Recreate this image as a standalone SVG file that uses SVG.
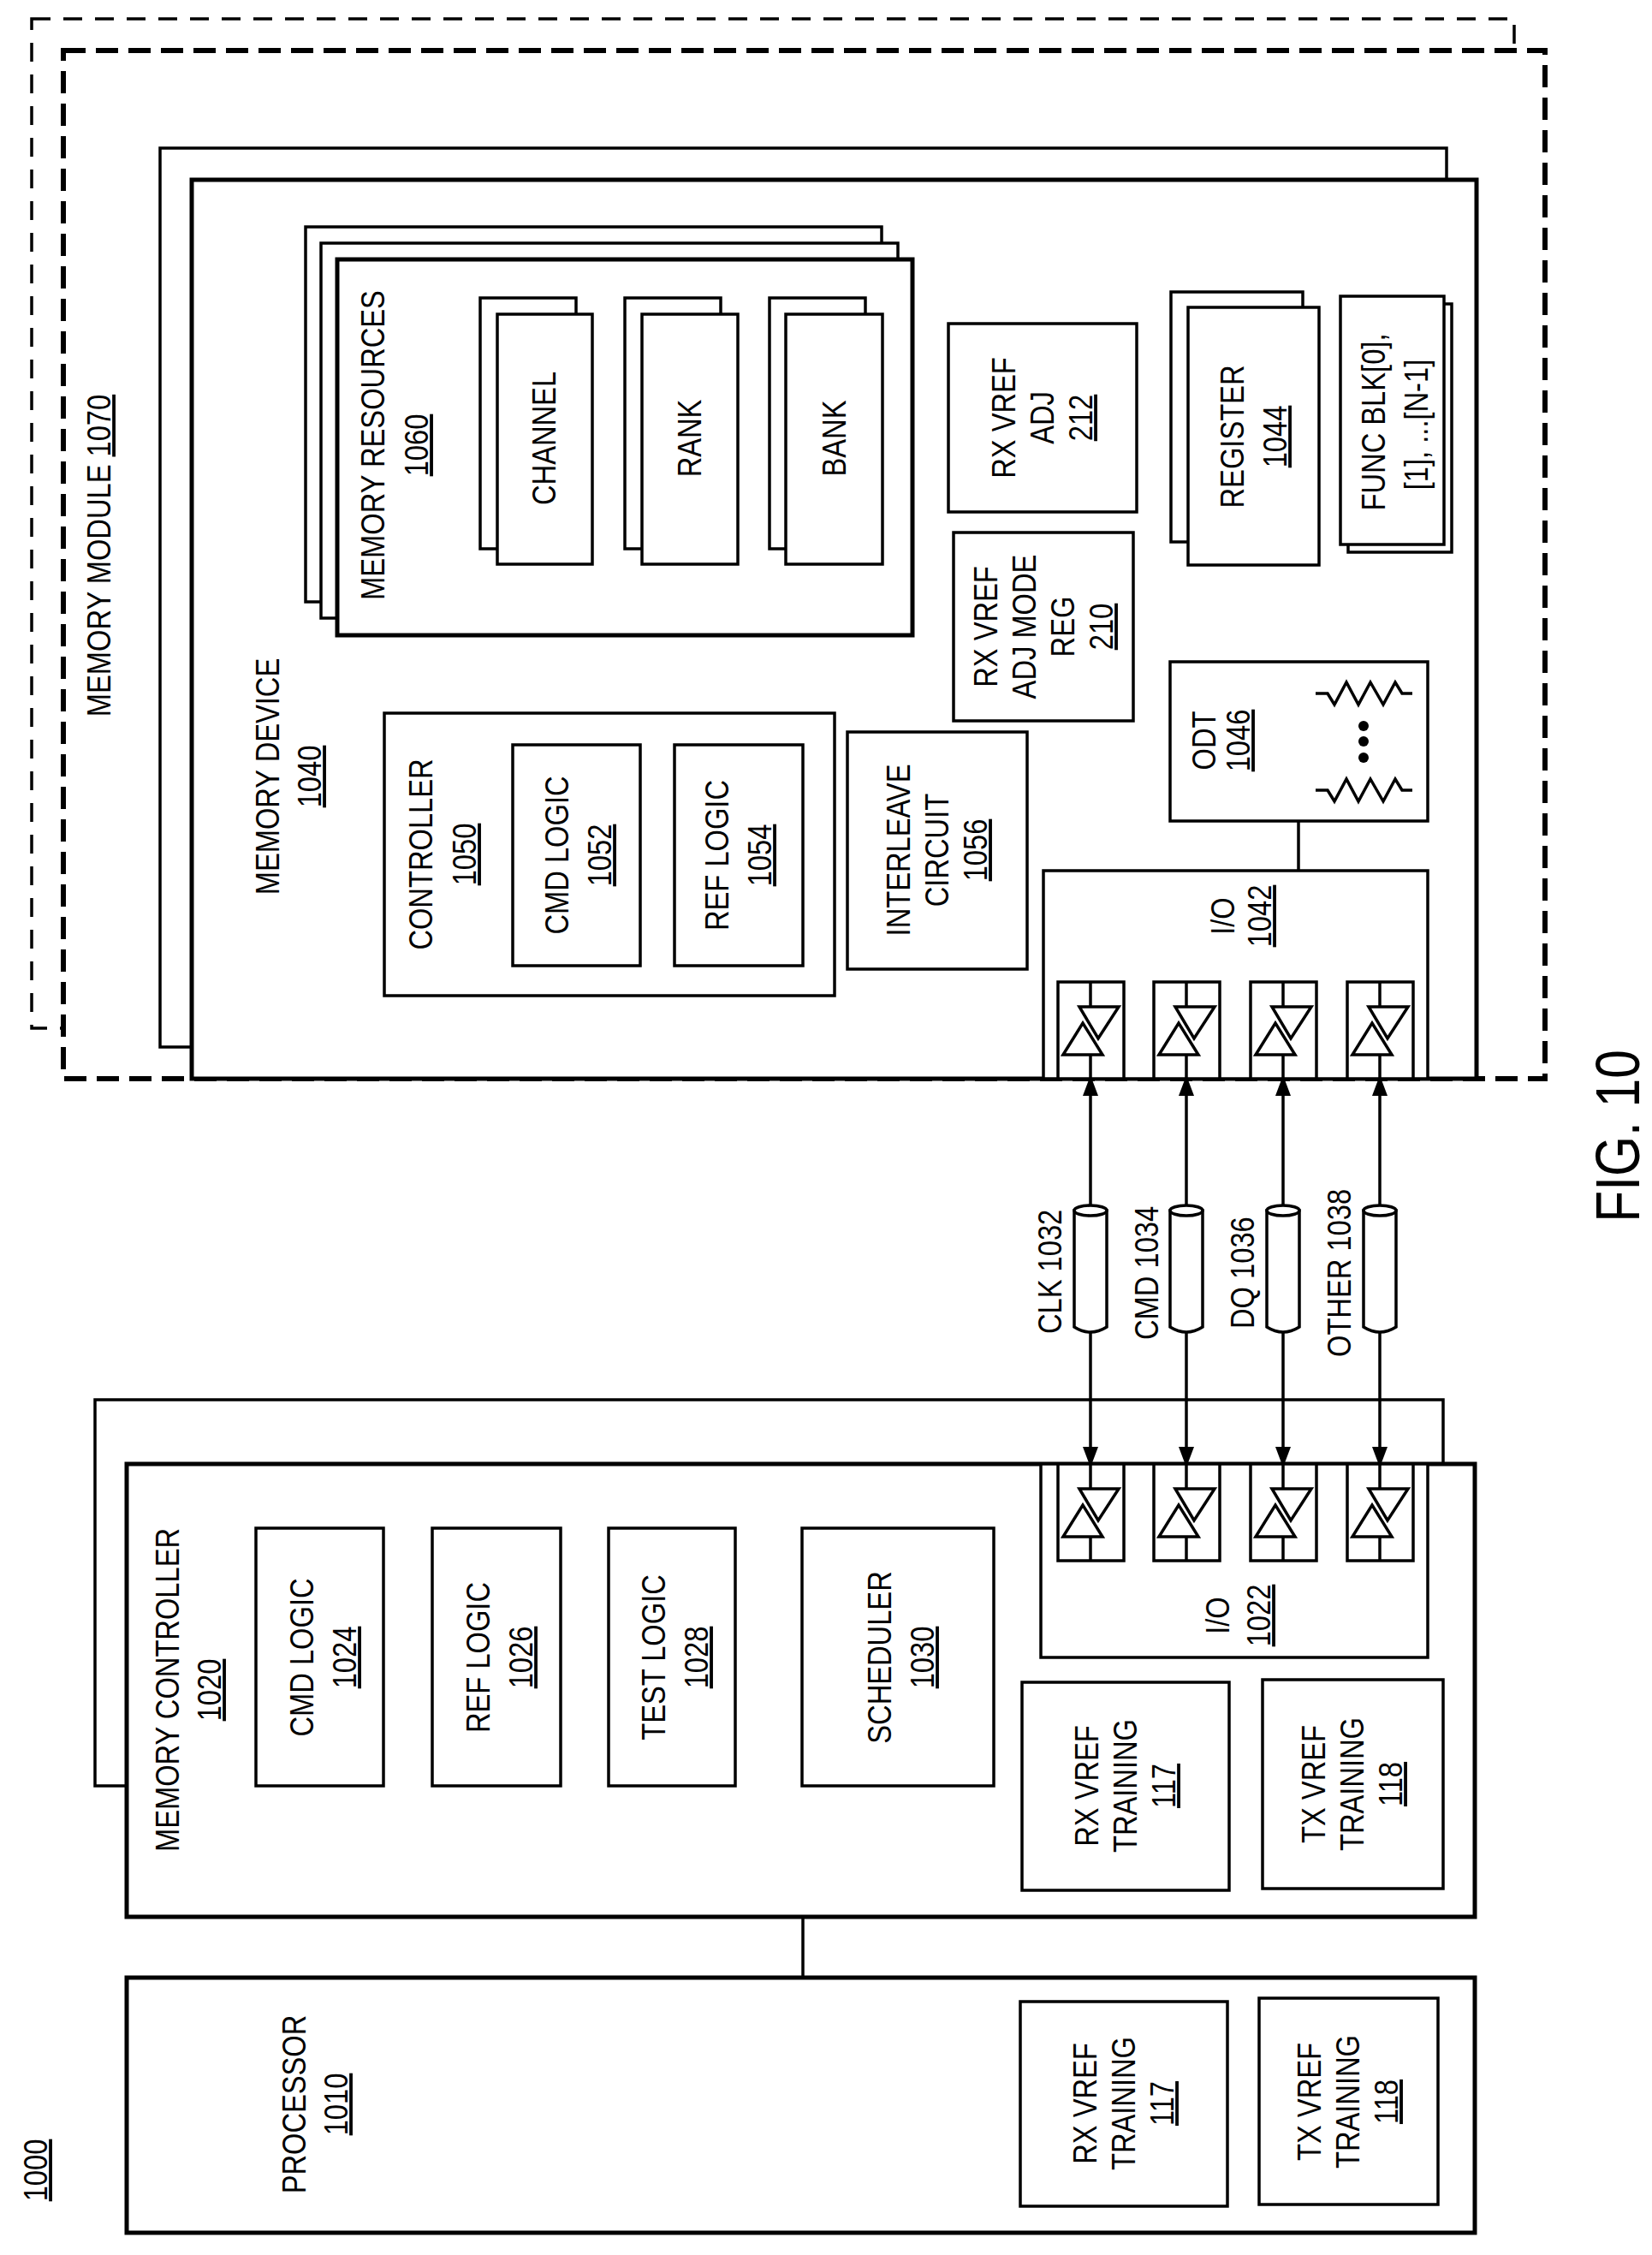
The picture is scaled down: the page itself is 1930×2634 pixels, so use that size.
<svg xmlns="http://www.w3.org/2000/svg" width="1930" height="2634" viewBox="0 0 1930 2634">
<style>
.b{fill:#fff;stroke:#000;stroke-width:3.5}
.bt{fill:#fff;stroke:#000;stroke-width:5}
.t{font-family:"Liberation Sans",Arial,sans-serif;font-size:38px;text-anchor:middle;fill:#000}
.u{text-decoration:underline}
.ln{fill:none;stroke:#000;stroke-width:3.5}
.tri{fill:#fff;stroke:#000;stroke-width:3.5}
</style>
<defs>
<marker id="ah" viewBox="0 0 24 32" refX="24" refY="12" markerWidth="32" markerHeight="24" markerUnits="userSpaceOnUse" orient="auto-start-reverse">
<path d="M0,0 L32,12 L0,24 Z" fill="#000"/>
</marker>
<g id="buf">
<rect class="b" x="-38" y="0" width="77" height="113"/>
<line class="ln" x1="0" y1="0" x2="0" y2="29"/>
<line class="ln" x1="0" y1="85" x2="0" y2="113"/>
<polygon class="tri" points="-13,29 33,29 9,66"/>
<polygon class="tri" points="-32,85 14,85 -9,48"/>
</g>
<path id="res" class="ln" d="M0,0 L14,0 L22,13 L36,-13 L50,13 L64,-13 L79,13 L93,-13 L101,0 L113,0"/>
</defs>

<g id="memory-module-1070">
<rect x="37" y="22" width="1732" height="1179" fill="#fff" stroke="#000" stroke-width="3.5" stroke-dasharray="22 15"/>
<rect x="74" y="59" width="1731" height="1201" fill="#fff" stroke="#000" stroke-width="6" stroke-dasharray="26 12"/>
<text class="t" transform="translate(129,649) rotate(-90) scale(0.86,1)">MEMORY MODULE <tspan class="u">1070</tspan></text>
</g>

<g id="memory-device-1040">
<rect class="b" x="187" y="173" width="1503" height="1050"/>
<rect class="bt" x="224" y="210" width="1501" height="1050"/>
<text class="t" transform="translate(326,907) rotate(-90) scale(0.86,1)">MEMORY DEVICE</text>
<text class="t u" transform="translate(375,907) rotate(-90) scale(0.86,1)">1040</text>
</g>

<g id="memory-resources-1060">
<rect class="b" x="357" y="265" width="673" height="438"/>
<rect class="b" x="375" y="284" width="674" height="438"/>
<rect class="bt" x="394" y="303" width="672" height="439"/>
<text class="t" transform="translate(449,520) rotate(-90) scale(0.86,1)">MEMORY RESOURCES</text>
<text class="t u" transform="translate(500,520) rotate(-90) scale(0.86,1)">1060</text>
</g>
<g id="channel">
<rect class="b" x="561" y="348" width="112" height="293"/>
<rect class="b" x="581" y="367" width="111" height="292"/>
<text class="t" transform="translate(649,512) rotate(-90) scale(0.86,1)">CHANNEL</text>
</g>
<g id="rank">
<rect class="b" x="730" y="348" width="112" height="293"/>
<rect class="b" x="750" y="367" width="112" height="292"/>
<text class="t" transform="translate(819,512) rotate(-90) scale(0.86,1)">RANK</text>
</g>
<g id="bank">
<rect class="b" x="899" y="348" width="112" height="293"/>
<rect class="b" x="918" y="367" width="113" height="292"/>
<text class="t" transform="translate(988,512) rotate(-90) scale(0.86,1)">BANK</text>
</g>

<g id="rx-vref-adj-212">
<rect class="b" x="1108" y="378" width="220" height="220"/>
<text class="t" transform="translate(1186,488) rotate(-90) scale(0.86,1)">RX VREF</text>
<text class="t" transform="translate(1231,488) rotate(-90) scale(0.86,1)">ADJ</text>
<text class="t u" transform="translate(1276,488) rotate(-90) scale(0.86,1)">212</text>
</g>
<g id="rx-vref-adj-mode-reg-210">
<rect class="b" x="1114" y="622" width="210" height="220"/>
<text class="t" transform="translate(1165,732) rotate(-90) scale(0.86,1)">RX VREF</text>
<text class="t" transform="translate(1210,732) rotate(-90) scale(0.86,1)">ADJ MODE</text>
<text class="t" transform="translate(1255,732) rotate(-90) scale(0.86,1)">REG</text>
<text class="t u" transform="translate(1300,732) rotate(-90) scale(0.86,1)">210</text>
</g>
<g id="register-1044">
<rect class="b" x="1368" y="341" width="154" height="292"/>
<rect class="b" x="1388" y="359" width="153" height="301"/>
<text class="t" transform="translate(1453,510) rotate(-90) scale(0.86,1)">REGISTER</text>
<text class="t u" transform="translate(1503,510) rotate(-90) scale(0.86,1)">1044</text>
</g>
<g id="func-blk">
<rect class="b" x="1575" y="355" width="121" height="290"/>
<rect class="b" x="1566" y="346" width="121" height="290"/>
<text class="t" transform="translate(1618,493) rotate(-90) scale(0.86,1)">FUNC BLK[0],</text>
<text class="t" transform="translate(1668,496) rotate(-90) scale(0.86,1)">[1], ...[N-1]</text>
</g>
<g id="odt-1046">
<rect class="b" x="1367" y="773" width="301" height="186"/>
<text class="t" transform="translate(1420,865) rotate(-90) scale(0.86,1)">ODT</text>
<text class="t u" transform="translate(1460,865) rotate(-90) scale(0.86,1)">1046</text>
<use href="#res" x="1537" y="810"/>
<use href="#res" x="1537" y="923"/>
<circle cx="1593" cy="848" r="6"/>
<circle cx="1593" cy="866" r="6"/>
<circle cx="1593" cy="885" r="6"/>
</g>
<g id="controller-1050">
<rect class="b" x="449" y="833" width="526" height="330"/>
<text class="t" transform="translate(505,998) rotate(-90) scale(0.86,1)">CONTROLLER</text>
<text class="t u" transform="translate(556,998) rotate(-90) scale(0.86,1)">1050</text>
</g>
<g id="cmd-logic-1052">
<rect class="b" x="599" y="870" width="149" height="258"/>
<text class="t" transform="translate(664,999) rotate(-90) scale(0.86,1)">CMD LOGIC</text>
<text class="t u" transform="translate(714,999) rotate(-90) scale(0.86,1)">1052</text>
</g>
<g id="ref-logic-1054">
<rect class="b" x="788" y="870" width="150" height="258"/>
<text class="t" transform="translate(851,999) rotate(-90) scale(0.86,1)">REF LOGIC</text>
<text class="t u" transform="translate(901,999) rotate(-90) scale(0.86,1)">1054</text>
</g>
<g id="interleave-circuit-1056">
<rect class="b" x="990" y="855" width="210" height="277"/>
<text class="t" transform="translate(1063,993) rotate(-90) scale(0.86,1)">INTERLEAVE</text>
<text class="t" transform="translate(1108,993) rotate(-90) scale(0.86,1)">CIRCUIT</text>
<text class="t u" transform="translate(1153,993) rotate(-90) scale(0.86,1)">1056</text>
</g>
<g id="io-1042">
<rect class="b" x="1219" y="1017" width="449" height="243"/>
<text class="t" transform="translate(1442,1070) rotate(-90) scale(0.86,1)">I/O</text>
<text class="t u" transform="translate(1485,1070) rotate(-90) scale(0.86,1)">1042</text>
<use href="#buf" x="1274" y="1147"/>
<use href="#buf" x="1386" y="1147"/>
<use href="#buf" x="1499" y="1147"/>
<use href="#buf" x="1612" y="1147"/>
</g>

<g id="memory-controller-1020">
<rect class="b" x="111" y="1635" width="1575" height="451"/>
<rect class="bt" x="148" y="1710" width="1575" height="529"/>
<text class="t" transform="translate(209,1974) rotate(-90) scale(0.86,1)">MEMORY CONTROLLER</text>
<text class="t u" transform="translate(258,1974) rotate(-90) scale(0.86,1)">1020</text>
</g>
<g id="cmd-logic-1024">
<rect class="b" x="299" y="1785" width="149" height="301"/>
<text class="t" transform="translate(366,1936) rotate(-90) scale(0.86,1)">CMD LOGIC</text>
<text class="t u" transform="translate(416,1936) rotate(-90) scale(0.86,1)">1024</text>
</g>
<g id="ref-logic-1026">
<rect class="b" x="505" y="1785" width="150" height="301"/>
<text class="t" transform="translate(572,1936) rotate(-90) scale(0.86,1)">REF LOGIC</text>
<text class="t u" transform="translate(622,1936) rotate(-90) scale(0.86,1)">1026</text>
</g>
<g id="test-logic-1028">
<rect class="b" x="711" y="1785" width="148" height="301"/>
<text class="t" transform="translate(777,1936) rotate(-90) scale(0.86,1)">TEST LOGIC</text>
<text class="t u" transform="translate(827,1936) rotate(-90) scale(0.86,1)">1028</text>
</g>
<g id="scheduler-1030">
<rect class="b" x="937" y="1785" width="224" height="301"/>
<text class="t" transform="translate(1041,1936) rotate(-90) scale(0.86,1)">SCHEDULER</text>
<text class="t u" transform="translate(1091,1936) rotate(-90) scale(0.86,1)">1030</text>
</g>
<g id="io-1022">
<rect class="b" x="1216" y="1710" width="452" height="226"/>
<use href="#buf" x="1274" y="1710"/>
<use href="#buf" x="1386" y="1710"/>
<use href="#buf" x="1499" y="1710"/>
<use href="#buf" x="1612" y="1710"/>
<text class="t" transform="translate(1436,1887) rotate(-90) scale(0.86,1)">I/O</text>
<text class="t u" transform="translate(1484,1887) rotate(-90) scale(0.86,1)">1022</text>
</g>
<g id="mc-rx-vref-training-117">
<rect class="b" x="1194" y="1965" width="242" height="243"/>
<text class="t" transform="translate(1283,2086) rotate(-90) scale(0.86,1)">RX VREF</text>
<text class="t" transform="translate(1328,2086) rotate(-90) scale(0.86,1)">TRAINING</text>
<text class="t u" transform="translate(1373,2086) rotate(-90) scale(0.86,1)">117</text>
</g>
<g id="mc-tx-vref-training-118">
<rect class="b" x="1475" y="1962" width="211" height="244"/>
<text class="t" transform="translate(1548,2084) rotate(-90) scale(0.86,1)">TX VREF</text>
<text class="t" transform="translate(1593,2084) rotate(-90) scale(0.86,1)">TRAINING</text>
<text class="t u" transform="translate(1638,2084) rotate(-90) scale(0.86,1)">118</text>
</g>

<g id="processor-1010">
<rect class="bt" x="148" y="2310" width="1575" height="298"/>
<text class="t" transform="translate(357,2458) rotate(-90) scale(0.86,1)">PROCESSOR</text>
<text class="t u" transform="translate(406,2458) rotate(-90) scale(0.86,1)">1010</text>
</g>
<g id="proc-rx-vref-training-117">
<rect class="b" x="1192" y="2338" width="242" height="239"/>
<text class="t" transform="translate(1281,2457) rotate(-90) scale(0.86,1)">RX VREF</text>
<text class="t" transform="translate(1326,2457) rotate(-90) scale(0.86,1)">TRAINING</text>
<text class="t u" transform="translate(1371,2457) rotate(-90) scale(0.86,1)">117</text>
</g>
<g id="proc-tx-vref-training-118">
<rect class="b" x="1471" y="2334" width="209" height="241"/>
<text class="t" transform="translate(1543,2455) rotate(-90) scale(0.86,1)">TX VREF</text>
<text class="t" transform="translate(1588,2455) rotate(-90) scale(0.86,1)">TRAINING</text>
<text class="t u" transform="translate(1633,2455) rotate(-90) scale(0.86,1)">118</text>
</g>

<g id="connectors">
<line class="ln" x1="1517" y1="959" x2="1517" y2="1017"/>
<line class="ln" x1="938" y1="2239" x2="938" y2="2310"/>
<line class="ln" x1="1274" y1="1262" x2="1274" y2="1708" marker-start="url(#ah)" marker-end="url(#ah)"/>
<line class="ln" x1="1386" y1="1262" x2="1386" y2="1708" marker-start="url(#ah)" marker-end="url(#ah)"/>
<line class="ln" x1="1499" y1="1262" x2="1499" y2="1708" marker-start="url(#ah)" marker-end="url(#ah)"/>
<line class="ln" x1="1612" y1="1262" x2="1612" y2="1708" marker-start="url(#ah)" marker-end="url(#ah)"/>
<g id="cylinders" fill="#fff" stroke="#000" stroke-width="3.5">
<path d="M1255,1414 L1255,1550 Q1274,1562 1293,1550 L1293,1414 Z"/><ellipse cx="1274" cy="1414" rx="19" ry="6"/>
<path d="M1367,1414 L1367,1550 Q1386,1562 1405,1550 L1405,1414 Z"/><ellipse cx="1386" cy="1414" rx="19" ry="6"/>
<path d="M1480,1414 L1480,1550 Q1499,1562 1518,1550 L1518,1414 Z"/><ellipse cx="1499" cy="1414" rx="19" ry="6"/>
<path d="M1593,1414 L1593,1550 Q1612,1562 1631,1550 L1631,1414 Z"/><ellipse cx="1612" cy="1414" rx="19" ry="6"/>
</g>
<text class="t" style="text-anchor:start" transform="translate(1240,1558) rotate(-90) scale(0.86,1)">CLK 1032</text>
<text class="t" style="text-anchor:start" transform="translate(1353,1565) rotate(-90) scale(0.86,1)">CMD 1034</text>
<text class="t" style="text-anchor:start" transform="translate(1465,1552) rotate(-90) scale(0.86,1)">DQ 1036</text>
<text class="t" style="text-anchor:start" transform="translate(1578,1585) rotate(-90) scale(0.86,1)">OTHER 1038</text>
</g>

<text class="t u" transform="translate(55,2535) rotate(-90) scale(0.86,1)">1000</text>
<text class="t" style="font-size:72px" transform="translate(1915,1327) rotate(-90) scale(0.84,1)">FIG. 10</text>
</svg>
